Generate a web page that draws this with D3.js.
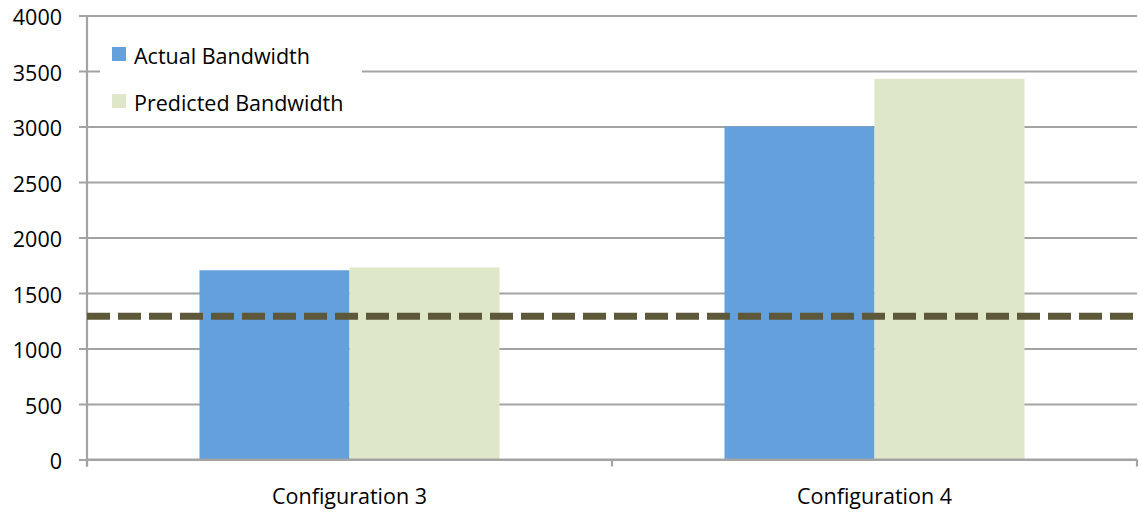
<!DOCTYPE html>
<html>
<head>
<meta charset="utf-8">
<script src="https://cdn.jsdelivr.net/npm/d3@7"></script>
<style>
  html, body { margin: 0; padding: 0; background: #fff; }
  svg { display: block; font-family: "Open Sans", Lato, "Liberation Sans", sans-serif; }
</style>
</head>
<body>
<svg id="chart" width="1139" height="514"></svg>
<script>
// Bandwidth per configuration
const categories = ["Configuration 3", "Configuration 4"];
const seriesNames = ["Actual Bandwidth", "Predicted Bandwidth"];
const actualBandwidth = [1705, 3000];
const predictedBandwidth = [1730, 3430];
const referenceLevel = 1290;
const yTicks = [0, 500, 1000, 1500, 2000, 2500, 3000, 3500, 4000];
const seriesColors = ["#63a0dc", "#dfe7c9"];

const svg = d3.select("#chart");
const margin = { left: 87, right: 2, top: 15.5, bottom: 54.5 };
const W = 1139, H = 514;
const x0 = margin.left, x1 = W - margin.right;
const yBottom = H - margin.bottom, yTop = margin.top;
const fontSize = 21.5;

const x = d3.scaleBand().domain(categories).range([x0, x1]).paddingInner(0).paddingOuter(0);
const xs = d3.scaleBand().domain(seriesNames).range([0, x.bandwidth()]).paddingInner(0).paddingOuter(0.75);
const y = d3.scaleLinear().domain([0, 4000]).range([yBottom, yTop]);

const grid = "#a3a3a3";

// Horizontal gridlines with tick stubs
const yAxis = d3.axisLeft(y).tickValues(yTicks).tickSize(-(x1 - x0)).tickPadding(25).tickFormat(d3.format("d"));
const gy = svg.append("g").attr("transform", `translate(${x0},0)`).call(yAxis);
gy.select(".domain").remove();
gy.selectAll(".tick line").attr("stroke", grid).attr("stroke-width", 2.2).attr("x1", -8);
gy.selectAll(".tick text").attr("font-size", fontSize).attr("fill", "#000").attr("dy", "0.42em")
  .attr("font-family", "'Open Sans', Lato, sans-serif");

// Vertical axis line
svg.append("line").attr("x1", x0).attr("x2", x0).attr("y1", yTop).attr("y2", yBottom + 7)
  .attr("stroke", grid).attr("stroke-width", 2.2);

// Legend background breaking the gridline
svg.append("rect").attr("x", 100).attr("y", 38).attr("width", 262).attr("height", 80).attr("fill", "#fff");

// Bars
const rows = categories.map((c, i) => ({ cat: c, vals: [actualBandwidth[i], predictedBandwidth[i]] }));
const groups = svg.append("g").selectAll("g").data(rows).join("g")
  .attr("transform", d => `translate(${x(d.cat)},0)`);
groups.selectAll("rect").data(d => d.vals.map((v, j) => ({ v, name: seriesNames[j], j })))
  .join("rect")
  .attr("x", d => xs(d.name))
  .attr("width", xs.bandwidth())
  .attr("y", d => y(d.v))
  .attr("height", d => y(0) - y(d.v))
  .attr("fill", d => seriesColors[d.j]);

// Category axis
svg.append("line").attr("x1", x0).attr("x2", x1).attr("y1", yBottom).attr("y2", yBottom)
  .attr("stroke", grid).attr("stroke-width", 2.2);
const catBounds = [x0, ...categories.map(c => x(c) + x.bandwidth())];
svg.append("g").selectAll("line").data(catBounds).join("line")
  .attr("x1", d => d).attr("x2", d => d).attr("y1", yBottom).attr("y2", yBottom + 7)
  .attr("stroke", grid).attr("stroke-width", 2.2);
svg.append("g").selectAll("text").data(categories).join("text")
  .attr("x", d => x(d) + x.bandwidth() / 2)
  .attr("y", yBottom + 44)
  .attr("text-anchor", "middle")
  .attr("font-size", fontSize)
  .attr("fill", "#000")
  .text(d => d);

// Dashed reference level
svg.append("line").attr("x1", x0).attr("x2", W).attr("y1", y(referenceLevel)).attr("y2", y(referenceLevel))
  .attr("stroke", "#5e583a").attr("stroke-width", 7).attr("stroke-dasharray", "23,8");

// Legend
const legend = svg.append("g");
seriesNames.forEach((name, i) => {
  const ly = 47 + i * 47;
  legend.append("rect").attr("x", 112).attr("y", ly).attr("width", 14).attr("height", 14).attr("fill", seriesColors[i]);
  legend.append("text").attr("x", 134).attr("y", ly + 16.5).attr("font-size", fontSize).attr("fill", "#000").text(name);
});
</script>
</body>
</html>
